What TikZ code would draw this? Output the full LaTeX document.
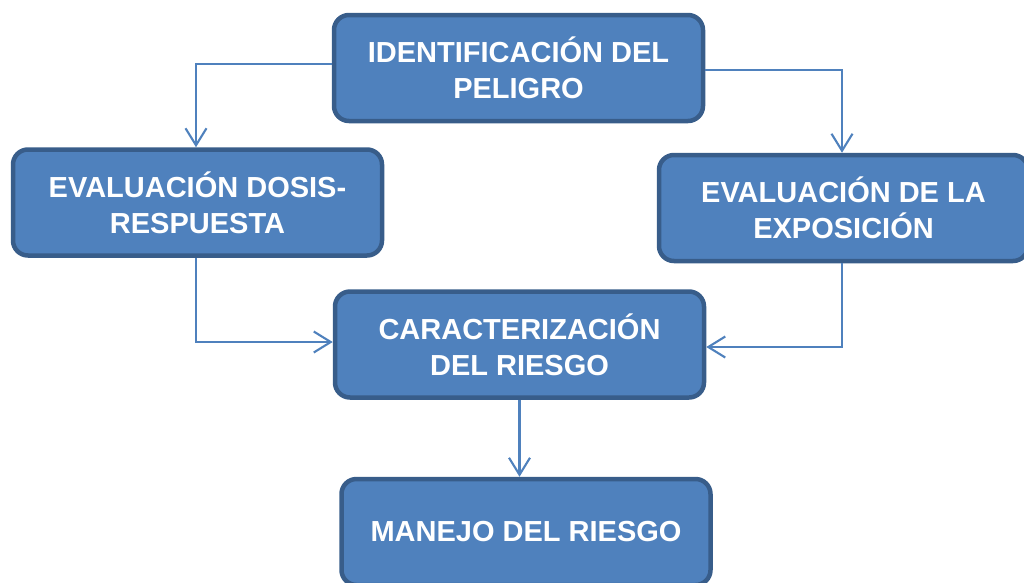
\documentclass[tikz,border=0pt]{standalone}
\usepackage{fontspec}
\setmainfont{Liberation Sans}
\usetikzlibrary{arrows.meta}
\definecolor{boxfill}{HTML}{4F81BD}
\definecolor{boxline}{HTML}{385D8A}
\definecolor{conn}{HTML}{4F81BD}
\tikzset{
  stepbox/.style={draw=boxline, line width=4.5pt, fill=boxfill, rounded corners=15pt,
    minimum width=369pt, minimum height=106pt, inner sep=0pt, align=center,
    text=white, font=\fontsize{29}{36}\selectfont\bfseries},
  connector/.style={draw=conn, line width=2.1pt,
    -{Straight Barb[length=17pt,width=21pt,line width=2.1pt]}}
}
\begin{document}
\begin{tikzpicture}[x=1pt,y=-1pt]
\useasboundingbox (0,0) rectangle (1024,582);
\node[stepbox] (b1) at (518.5,68) {IDENTIFICACIÓN DEL\\PELIGRO};
\node[stepbox] (b2) at (197.5,202.5) {EVALUACIÓN DOSIS-\\RESPUESTA};
\node[stepbox] (b3) at (843.5,208) {EVALUACIÓN DE LA\\EXPOSICIÓN};
\node[stepbox] (b4) at (519.5,344.5) {CARACTERIZACIÓN\\DEL RIESGO};
\node[stepbox] (b5) at (526,532) {MANEJO DEL RIESGO};
\draw[connector] ([yshift=4pt]b1.west) -| ([xshift=-1.5pt]b2.north);
\draw[connector] ([yshift=-2pt]b1.east) -| ([xshift=-1.5pt]b3.north);
\draw[connector] ([xshift=-1.5pt]b2.south) |- ([yshift=2.5pt]b4.west);
\draw[connector] ([xshift=-1.5pt]b3.south) |- ([yshift=-2.5pt]b4.east);
\draw[connector] (b4.south) -- (b4.south |- b5.north);
\end{tikzpicture}
\end{document}
